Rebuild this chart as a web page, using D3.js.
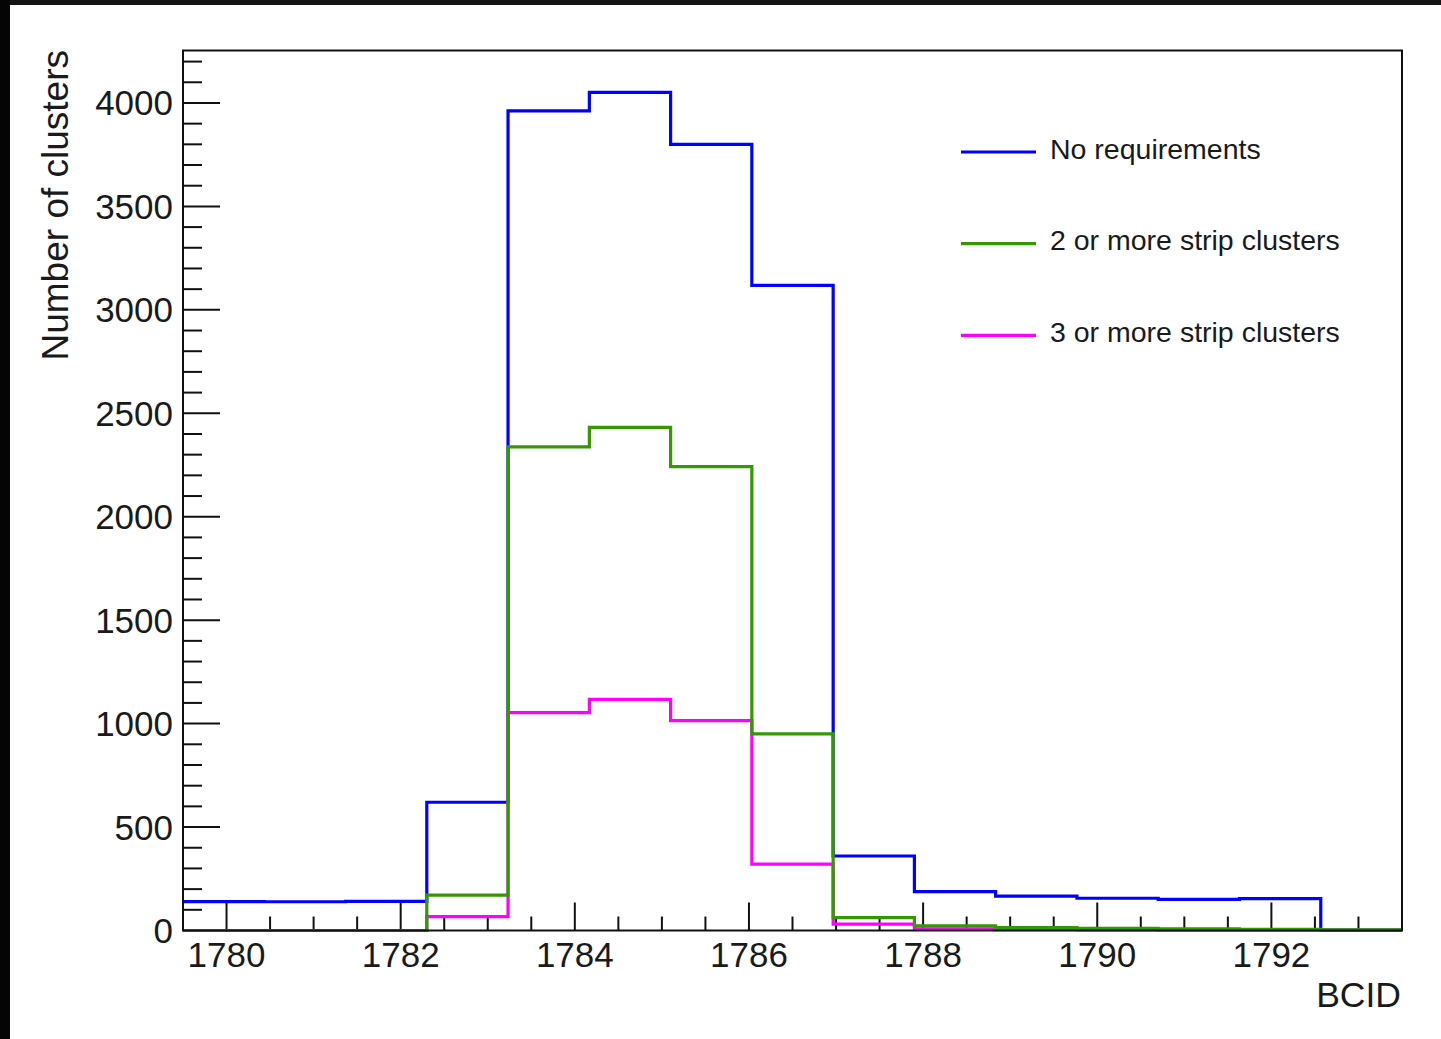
<!DOCTYPE html>
<html>
<head>
<meta charset="utf-8">
<script src="https://cdn.jsdelivr.net/npm/d3@7"></script>
<style>
  html, body { margin: 0; padding: 0; background: #fff; }
  svg { display: block; }
  text { font-family: "Liberation Sans", Arial, Helvetica, sans-serif; fill: #1a1a1a; }
</style>
</head>
<body>
<svg id="chart" width="1441" height="1039"></svg>
<script>
// ---- data ----
const binEdges = [1779.5, 1780.433, 1781.367, 1782.3, 1783.233, 1784.167, 1785.1, 1786.033,
                  1786.967, 1787.9, 1788.833, 1789.767, 1790.7, 1791.633, 1792.567, 1793.5];
const noRequirements = [140, 139, 141, 620, 3962, 4051, 3800, 3118, 360, 188, 166, 156, 150, 154, 2];
const twoOrMore      = [0, 0, 0, 171, 2338, 2432, 2242, 950, 62, 22, 14, 10, 8, 6, 3];
const threeOrMore    = [0, 0, 0, 67, 1053, 1117, 1014, 321, 31, 8, 4, 3, 2, 2, 1];
const seriesNames    = ["No requirements", "2 or more strip clusters", "3 or more strip clusters"];
const seriesColors   = ["#0000ff", "#339900", "#ff00ff"];
const xTickLabels    = [1780, 1782, 1784, 1786, 1788, 1790, 1792];
const yTickLabels    = [0, 500, 1000, 1500, 2000, 2500, 3000, 3500, 4000];
const xTitle = "BCID";
const yTitle = "Number of clusters";

// ---- layout ----
const svg = d3.select("#chart");
const W = 1441, H = 1039;
const frame = { left: 183, right: 1402, top: 50.5, bottom: 930.5 };
const yMax = 1.05 * d3.max(noRequirements);

svg.append("rect").attr("x", 0).attr("y", 0).attr("width", W).attr("height", H).attr("fill", "#fff");
// dark photo edges
svg.append("rect").attr("x", 0).attr("y", 0).attr("width", W).attr("height", 5).attr("fill", "#141414");
svg.append("rect").attr("x", 0).attr("y", 0).attr("width", 10).attr("height", H).attr("fill", "#050505");

const x = d3.scaleLinear().domain([binEdges[0], binEdges[binEdges.length - 1]]).range([frame.left, frame.right]);
const y = d3.scaleLinear().domain([0, yMax]).range([frame.bottom, frame.top]);

// ---- ticks ----
const tickG = svg.append("g").attr("stroke", "#111").attr("stroke-width", 2);
// y minor ticks every 100
const yMinor = d3.range(0, yMax, 100);
yMinor.forEach(v => {
  const major = v % 500 === 0;
  tickG.append("line")
    .attr("x1", frame.left).attr("x2", frame.left + (major ? 37 : 19))
    .attr("y1", y(v)).attr("y2", y(v));
});
// x ticks every 0.5
const xMinor = d3.range(1780, 1793.51, 0.5);
xMinor.forEach(v => {
  const major = Math.abs(v - Math.round(v)) < 1e-6 && Math.round(v) % 2 === 0;
  tickG.append("line")
    .attr("x1", x(v)).attr("x2", x(v))
    .attr("y1", frame.bottom).attr("y2", frame.bottom - (major ? 28 : 14));
});

// tick labels
svg.append("g").selectAll("text").data(yTickLabels).join("text")
  .attr("x", 173).attr("y", d => y(d) + 12.5)
  .attr("text-anchor", "end").attr("font-size", 35).text(d => d);
svg.append("g").selectAll("text").data(xTickLabels).join("text")
  .attr("x", d => x(d)).attr("y", 967)
  .attr("text-anchor", "middle").attr("font-size", 35).text(d => d);

// axis titles
svg.append("text").attr("x", 1401).attr("y", 1007).attr("text-anchor", "end")
  .attr("font-size", 35.5).text(xTitle);
svg.append("text").attr("transform", "translate(68,50) rotate(-90)")
  .attr("text-anchor", "end").attr("font-size", 37).text(yTitle);

// ---- histograms ----
const line = d3.line().x(d => x(d[0])).y(d => y(d[1])).curve(d3.curveStepAfter);
function histPoints(vals) {
  const pts = vals.map((v, i) => [binEdges[i], v]);
  pts.push([binEdges[binEdges.length - 1], vals[vals.length - 1]]);
  return pts;
}
const series = [noRequirements, twoOrMore, threeOrMore];
const drawOrder = [0, 2, 1];
drawOrder.forEach(i => {
  svg.append("path").attr("d", line(histPoints(series[i])))
    .attr("fill", "none").attr("stroke", seriesColors[i]).attr("stroke-width", 3.2)
    .attr("stroke-linejoin", "miter");
});

// frame
svg.append("rect").attr("x", frame.left).attr("y", frame.top)
  .attr("width", frame.right - frame.left).attr("height", frame.bottom - frame.top)
  .attr("fill", "none").attr("stroke", "#111").attr("stroke-width", 2);

// ---- legend ----
const leg = svg.append("g");
seriesNames.forEach((name, i) => {
  const ly = 152 + i * 91.7;
  leg.append("line").attr("x1", 961).attr("x2", 1036).attr("y1", ly).attr("y2", ly)
    .attr("stroke", seriesColors[i]).attr("stroke-width", 3.2);
  leg.append("text").attr("x", 1050).attr("y", ly + 6.5).attr("font-size", 28.5).text(name);
});
</script>
</body>
</html>
